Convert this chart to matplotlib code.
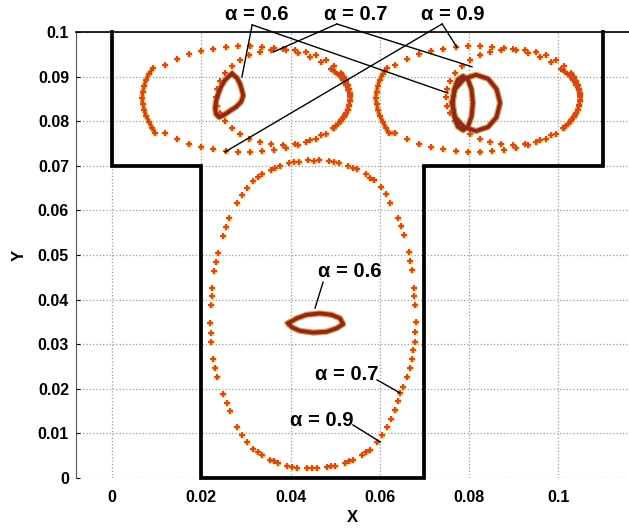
import numpy as np
import matplotlib
matplotlib.use('Agg')
import matplotlib.pyplot as plt
from matplotlib.collections import LineCollection

# particle paths in the T-shaped cavity (X, Y)
# alpha = 0.9, upper chamber, left vortex
l09_x = [0.0119, 0.0146, 0.0173, 0.0199, 0.0226, 0.0255, 0.0282, 0.0309, 0.0336, 0.0363, 0.0390, 0.0417, 0.0444, 0.0468, 0.0491,
         0.0500, 0.0510, 0.0518, 0.0524, 0.0530, 0.0533, 0.0533, 0.0532, 0.0528, 0.0522, 0.0513, 0.0506, 0.0495,
         0.0468, 0.0444, 0.0417, 0.0390, 0.0363, 0.0336, 0.0309, 0.0282, 0.0255, 0.0226, 0.0199, 0.0173, 0.0146, 0.0119,
         0.0096, 0.0090, 0.0083, 0.0076, 0.0072, 0.0069, 0.0067, 0.0069, 0.0072, 0.0076, 0.0083, 0.0092]
l09_y = [0.0927, 0.0940, 0.0950, 0.0958, 0.0963, 0.0967, 0.0968, 0.0968, 0.0967, 0.0964, 0.0959, 0.0952, 0.0943, 0.0932, 0.0918,
         0.0910, 0.0901, 0.0892, 0.0881, 0.0870, 0.0859, 0.0848, 0.0836, 0.0825, 0.0814, 0.0803, 0.0794, 0.0785,
         0.0768, 0.0757, 0.0747, 0.0740, 0.0736, 0.0733, 0.0731, 0.0731, 0.0733, 0.0737, 0.0742, 0.0749, 0.0759, 0.0773,
         0.0774, 0.0785, 0.0798, 0.0812, 0.0825, 0.0839, 0.0852, 0.0866, 0.0879, 0.0893, 0.0906, 0.0919]

# alpha = 0.9, upper chamber, right vortex
r09_x = [0.0635, 0.0662, 0.0689, 0.0715, 0.0742, 0.0771, 0.0798, 0.0825, 0.0852, 0.0879, 0.0906, 0.0933, 0.0960, 0.0984, 0.1007,
         0.1016, 0.1026, 0.1034, 0.1040, 0.1046, 0.1049, 0.1049, 0.1048, 0.1044, 0.1038, 0.1029, 0.1022, 0.1011,
         0.0984, 0.0960, 0.0933, 0.0906, 0.0879, 0.0852, 0.0825, 0.0798, 0.0771, 0.0742, 0.0715, 0.0689, 0.0662, 0.0635,
         0.0620, 0.0614, 0.0607, 0.0600, 0.0596, 0.0593, 0.0591, 0.0593, 0.0596, 0.0600, 0.0607, 0.0616]
r09_y = l09_y

# alpha = 0.7, upper chamber
l07_x = [0.0533, 0.0533, 0.0531, 0.0528, 0.0524, 0.0519, 0.0513,
         0.0498, 0.0480, 0.0458, 0.0435, 0.0409, 0.0383, 0.0357, 0.0332, 0.0308, 0.0287, 0.0268, 0.0253, 0.0242, 0.0235,
         0.0233, 0.0235, 0.0242, 0.0253, 0.0268, 0.0287, 0.0308, 0.0332, 0.0357, 0.0383, 0.0409, 0.0435, 0.0458, 0.0480,
         0.0498, 0.0513, 0.0519, 0.0524, 0.0528, 0.0531, 0.0533]
l07_y = [0.0854, 0.0864, 0.0873, 0.0882, 0.0891, 0.0900, 0.0908,
         0.0924, 0.0937, 0.0948, 0.0955, 0.0960, 0.0962, 0.0960, 0.0955, 0.0948, 0.0937, 0.0924, 0.0908, 0.0891, 0.0873,
         0.0854, 0.0835, 0.0818, 0.0800, 0.0785, 0.0772, 0.0761, 0.0753, 0.0748, 0.0747, 0.0748, 0.0753, 0.0761, 0.0772,
         0.0785, 0.0800, 0.0809, 0.0818, 0.0826, 0.0835, 0.0845]
r07_x = [0.1049, 0.1049, 0.1047, 0.1044, 0.1040, 0.1035, 0.1029,
         0.1014, 0.0996, 0.0974, 0.0951, 0.0925, 0.0899, 0.0873, 0.0848, 0.0824, 0.0803, 0.0784, 0.0769, 0.0758, 0.0751,
         0.0749, 0.0751, 0.0758, 0.0769, 0.0784, 0.0803, 0.0824, 0.0848, 0.0873, 0.0899, 0.0925, 0.0951, 0.0974, 0.0996,
         0.1014, 0.1029, 0.1035, 0.1040, 0.1044, 0.1047, 0.1049]
r07_y = l07_y

# alpha = 0.6, trapped loops
l06_x = [0.0269, 0.0280, 0.0287, 0.0291, 0.0294, 0.0289, 0.0278, 0.0264, 0.0251, 0.0240, 0.0233, 0.0231, 0.0233, 0.0238, 0.0244, 0.0253, 0.0262]
l06_y = [0.0906, 0.0897, 0.0883, 0.0870, 0.0857, 0.0843, 0.0832, 0.0823, 0.0814, 0.0809, 0.0816, 0.0830, 0.0845, 0.0861, 0.0877, 0.0892, 0.0901]
r06_x = [0.0762, 0.0769, 0.0789, 0.0816, 0.0843, 0.0862, 0.0870, 0.0862, 0.0843, 0.0816, 0.0789, 0.0769, 0.0762,
         0.0764, 0.0767, 0.0775, 0.0787, 0.0798, 0.0806, 0.0809, 0.0806, 0.0798, 0.0787, 0.0775, 0.0767, 0.0764]
r06_y = [0.0841, 0.0809, 0.0787, 0.0778, 0.0787, 0.0809, 0.0841, 0.0872, 0.0895, 0.0904, 0.0895, 0.0872, 0.0841,
         0.0841, 0.0811, 0.0788, 0.0780, 0.0788, 0.0811, 0.0841, 0.0871, 0.0893, 0.0901, 0.0893, 0.0871, 0.0841]
c06_x = [0.0395, 0.0414, 0.0436, 0.0466, 0.0492, 0.0511, 0.0518, 0.0504, 0.0481, 0.0451, 0.0421, 0.0403]
c06_y = [0.0347, 0.0358, 0.0366, 0.0369, 0.0366, 0.0358, 0.0345, 0.0336, 0.0328, 0.0326, 0.0330, 0.0338]

# lower channel, alpha = 0.9 and 0.7
b09_x = [0.0419, 0.0439, 0.0464, 0.0486, 0.0509, 0.0529, 0.0549, 0.0569, 0.0587, 0.0603, 0.0623, 0.0641, 0.0654, 0.0666,
         0.0672, 0.0677, 0.0679, 0.0681, 0.0679, 0.0672, 0.0661, 0.0645, 0.0634, 0.0616, 0.0594, 0.0578, 0.0560, 0.0540,
         0.0522, 0.0500, 0.0482, 0.0459, 0.0437, 0.0415, 0.0392, 0.0372, 0.0354, 0.0336, 0.0316, 0.0303, 0.0280, 0.0265,
         0.0249, 0.0235, 0.0226, 0.0222, 0.0220, 0.0222, 0.0224, 0.0229, 0.0238, 0.0249, 0.0262, 0.0280, 0.0303, 0.0316,
         0.0336, 0.0356, 0.0377, 0.0397]
b09_y = [0.0709, 0.0713, 0.0713, 0.0711, 0.0706, 0.0700, 0.0693, 0.0682, 0.0668, 0.0652, 0.0617, 0.0583, 0.0545, 0.0507,
         0.0466, 0.0426, 0.0388, 0.0350, 0.0305, 0.0267, 0.0226, 0.0191, 0.0152, 0.0114, 0.0081, 0.0063, 0.0052, 0.0040,
         0.0034, 0.0027, 0.0025, 0.0022, 0.0022, 0.0022, 0.0027, 0.0034, 0.0040, 0.0052, 0.0065, 0.0081, 0.0114, 0.0150,
         0.0188, 0.0226, 0.0267, 0.0305, 0.0348, 0.0388, 0.0426, 0.0464, 0.0504, 0.0543, 0.0583, 0.0617, 0.0650, 0.0666,
         0.0682, 0.0691, 0.0700, 0.0706]
b07_x = [0.0452, 0.0497, 0.0540, 0.0578, 0.0613, 0.0648, 0.0669, 0.0678, 0.0680, 0.0675, 0.0668, 0.0653, 0.0640, 0.0626,
         0.0606, 0.0570, 0.0531, 0.0491, 0.0448, 0.0404, 0.0363, 0.0326, 0.0292, 0.0257, 0.0230, 0.0221, 0.0223, 0.0233,
         0.0255, 0.0291, 0.0326, 0.0366, 0.0408]
b07_y = [0.0711, 0.0708, 0.0695, 0.0672, 0.0636, 0.0565, 0.0487, 0.0407, 0.0328, 0.0286, 0.0246, 0.0205, 0.0172, 0.0133,
         0.0097, 0.0058, 0.0037, 0.0026, 0.0022, 0.0024, 0.0037, 0.0058, 0.0097, 0.0169, 0.0246, 0.0326, 0.0407, 0.0484,
         0.0563, 0.0634, 0.0674, 0.0696, 0.0708]

# cavity outline (open at the top lid)
wall_x = [0.0, 0.0, 0.02, 0.02, 0.07, 0.07, 0.11, 0.11]
wall_y = [0.1, 0.07, 0.07, 0.0, 0.0, 0.07, 0.07, 0.1]

xticks = [0, 0.02, 0.04, 0.06, 0.08, 0.1]
xtick_labels = ['0', '0.02', '0.04', '0.06', '0.08', '0.1']
yticks = [0, 0.01, 0.02, 0.03, 0.04, 0.05, 0.06, 0.07, 0.08, 0.09, 0.1]
ytick_labels = ['0', '0.01', '0.02', '0.03', '0.04', '0.05', '0.06', '0.07', '0.08', '0.09', '0.1']

# label text, text centre, leader start, leader ends
callouts = [
    ('α = 0.6', (0.0325, 0.1040), (0.0314, 0.1016), [(0.0291, 0.0899), (0.0753, 0.0863)]),
    ('α = 0.7', (0.0547, 0.1040), (0.0504, 0.1018), [(0.0361, 0.0955), (0.0807, 0.0922)]),
    ('α = 0.9', (0.0764, 0.1040), (0.0740, 0.1018), [(0.0253, 0.0731), (0.0773, 0.0966)]),
    ('α = 0.6', (0.0533, 0.0464), (0.0473, 0.0439), [(0.0455, 0.0381)]),
    ('α = 0.7', (0.0527, 0.0231), (0.0594, 0.0220), [(0.0645, 0.0191)]),
    ('α = 0.9', (0.0471, 0.0130), (0.0540, 0.0119), [(0.0601, 0.0081)]),
]


def draw_path(ax, x, y, gap=0.0018):
    x = np.asarray(x)
    y = np.asarray(y)
    # close samples are joined so the slow parts of the orbit look solid
    segs = [[(x[i], y[i]), (x[i + 1], y[i + 1])] for i in range(len(x) - 1)
            if np.hypot(x[i + 1] - x[i], y[i + 1] - y[i]) < gap]
    if segs:
        ax.add_collection(LineCollection(segs, colors='#f3b640', linewidths=4.0, zorder=3))
        ax.add_collection(LineCollection(segs, colors='#b8401e', linewidths=2.0, zorder=4))
    ax.plot(x, y, 'o', ms=4.5, color='#f8c657', mec='none', zorder=3)
    ax.plot(x, y, '+', ms=5, mew=1.4, color='#d2481f', zorder=5)


def draw_loop(ax, x, y, closed=True):
    x = list(x)
    y = list(y)
    if closed:
        x = x + x[:1]
        y = y + y[:1]
    ax.plot(x, y, color='#e9974a', lw=4.5, solid_joinstyle='round', zorder=4)
    ax.plot(x, y, color='#8a2a1a', lw=2.8, solid_joinstyle='round', zorder=5)


fig = plt.figure(figsize=(6.29, 5.32), dpi=100)
ax = fig.add_axes([76 / 629, 54 / 532, 553 / 629, 446 / 532])

ax.plot(wall_x, wall_y, color='black', lw=2.7, solid_joinstyle='miter', clip_on=False, zorder=7)

for px, py in [(l09_x, l09_y), (r09_x, r09_y), (l07_x, l07_y), (r07_x, r07_y), (b09_x, b09_y), (b07_x, b07_y)]:
    draw_path(ax, px, py)
draw_loop(ax, l06_x, l06_y)
draw_loop(ax, r06_x, r06_y, closed=False)
draw_loop(ax, c06_x, c06_y)

for text, tpos, start, ends in callouts:
    ax.text(tpos[0], tpos[1], text, ha='center', va='center', fontsize=14.5, fontweight='bold',
            family='Liberation Sans', clip_on=False, zorder=8)
    for end in ends:
        ax.plot([start[0], end[0]], [start[1], end[1]], color='black', lw=1.0, clip_on=False, zorder=8)

ax.set_xlim(-0.0081, 0.1159)
ax.set_ylim(0, 0.1)
ax.set_xticks(xticks)
ax.set_xticklabels(xtick_labels)
ax.set_yticks(yticks)
ax.set_yticklabels(ytick_labels)
for lab in ax.get_xticklabels() + ax.get_yticklabels():
    lab.set_fontfamily('Liberation Sans')
    lab.set_fontweight('bold')
    lab.set_fontsize(11.5)
ax.tick_params(axis='x', length=0, pad=9)
ax.tick_params(axis='y', length=3, direction='in', pad=5)
ax.grid(True, linestyle=':', color='#9a9a9a', lw=0.9)
ax.set_axisbelow(True)
ax.spines['right'].set_visible(False)
ax.spines['bottom'].set_visible(False)
ax.spines['top'].set_linewidth(1.2)
ax.spines['left'].set_color('#555555')

ax.set_xlabel('X', fontsize=12, fontweight='bold', family='Liberation Sans', labelpad=3)
ax.set_ylabel('Y', fontsize=12, fontweight='bold', family='Liberation Sans', labelpad=8)

fig.savefig('out.png', dpi=100)
